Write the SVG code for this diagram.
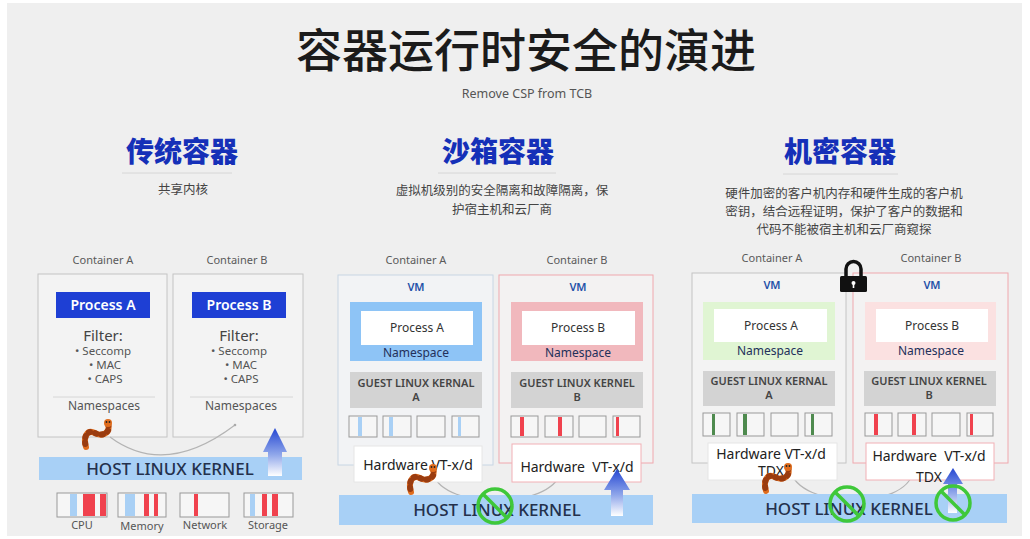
<svg xmlns="http://www.w3.org/2000/svg" width="1030" height="539" viewBox="0 0 1030 539">
  <style>
    .cjk { font-family: "Noto Sans CJK SC", "Noto Sans", sans-serif; }
    .lat { font-family: "Noto Sans", "Open Sans", "Liberation Sans", sans-serif; }
    .title { font-size: 46px; fill: #1b1b1b; font-weight: 500; }
    .sub { font-size: 12.5px; fill: #555; }
    .head { font-size: 28px; font-weight: 900; fill: #1530b8; }
    .desc { font-size: 12.5px; fill: #444; }
    .cname { font-size: 11px; fill: #5a5a5a; }
    .box { fill: #f3f3f3; stroke: #c4c4c4; stroke-width: 1; }
    .boxA { fill: #f2f3f5; stroke: #c8d6e4; stroke-width: 1; }
    .boxB { fill: #f3f2f2; stroke: #f0a8ae; stroke-width: 1; }
    .proc { fill: #1e3fd4; }
    .proct { font-size: 14px; fill: #fff; font-weight: 600; }
    .filt { font-size: 15px; fill: #444; }
    .bul { font-size: 11.5px; fill: #555; }
    .ns { font-size: 12px; fill: #555; }
    .vm { font-size: 11px; fill: #2450a8; font-weight: 600; }
    .white { fill: #ffffff; }
    .pt { font-size: 12px; fill: #333; }
    .nst { font-size: 12px; fill: #23305a; }
    .guest { fill: #d3d3d3; }
    .gt { font-size: 11px; fill: #444; font-weight: 600; }
    .slot { fill: #f6f6f6; stroke: #999; stroke-width: 1; }
    .hw { fill: #ffffff; stroke: #e6e6e6; stroke-width: 1; }
    .hwB { fill: #ffffff; stroke: #f2b0b5; stroke-width: 1; }
    .hwt { font-size: 14px; fill: #222; }
    .kern { fill: #a8d0f6; }
    .kt { font-size: 17px; fill: #24314c; font-weight: 500; }
    .res { font-size: 11px; fill: #555; }
    .path { fill: none; stroke: #b4b4b4; stroke-width: 1.2; }
    .no { fill: none; stroke: #3fc83a; stroke-width: 3.5; }
    .worm { fill: none; stroke: #e06c1c; stroke-width: 6; stroke-linecap: round; }
    .wormspot { fill: none; stroke: #9a3c10; stroke-width: 6; stroke-dasharray: 1.5 5; stroke-linecap: round; }
    .rb { fill: #a9d0f5; }
    .rr { fill: #f0424e; }
    .rg { fill: #4e8a4e; }
    .line { stroke: #d6d6d6; stroke-width: 1; }
  </style>
  <defs>
    <linearGradient id="upGrad" x1="0" y1="0" x2="0" y2="1">
      <stop offset="0" stop-color="#2446d2"/>
      <stop offset="0.55" stop-color="#8fa6ea"/>
      <stop offset="1" stop-color="#ffffff"/>
    </linearGradient>
    <g id="wormShape">
      <path class="worm" d="M0,0 C3,9 -6,13 -13,9 C-21,5 -25,13 -22,23"/>
      <path class="wormspot" d="M0,0 C3,9 -6,13 -13,9 C-21,5 -25,13 -22,23"/>
      <circle cx="0" cy="-1" r="4" fill="#e06c1c"/>
      <circle cx="-1.5" cy="-2" r="0.9" fill="#222"/>
      <circle cx="1.5" cy="-2" r="0.9" fill="#222"/>
    </g>
    <g id="noSign">
      <circle class="no" cx="0" cy="0" r="17"/>
      <line class="no" x1="-12" y1="-12" x2="12" y2="12"/>
    </g>
  </defs>

  <!-- page -->
  <rect x="0" y="0" width="1030" height="539" fill="#ffffff"/>
  <rect x="7" y="3" width="1015" height="533" fill="#efefef"/>

  <!-- title -->
  <g id="title">
    <text class="cjk title" x="526" y="67" text-anchor="middle">容器运行时安全的演进</text>
    <text class="lat sub" x="527" y="98" text-anchor="middle">Remove CSP from TCB</text>
  </g>

  <!-- section headings -->
  <g id="heading-traditional">
    <text class="cjk head" x="182" y="162" text-anchor="middle">传统容器</text>
    <line class="line" x1="122" y1="173" x2="232" y2="173"/>
    <text class="cjk desc" x="183" y="194" text-anchor="middle">共享内核</text>
  </g>
  <g id="heading-sandbox">
    <text class="cjk head" x="498" y="162" text-anchor="middle">沙箱容器</text>
    <line class="line" x1="438" y1="173" x2="556" y2="173"/>
    <text class="cjk desc" x="502" y="195" text-anchor="middle">虚拟机级别的安全隔离和故障隔离，保</text>
    <text class="cjk desc" x="502" y="214" text-anchor="middle">护宿主机和云厂商</text>
  </g>
  <g id="heading-confidential">
    <text class="cjk head" x="840" y="162" text-anchor="middle">机密容器</text>
    <line class="line" x1="783" y1="174" x2="898" y2="174"/>
    <text class="cjk desc" x="844" y="198" text-anchor="middle">硬件加密的客户机内存和硬件生成的客户机</text>
    <text class="cjk desc" x="844" y="216" text-anchor="middle">密钥，结合远程证明，保护了客户的数据和</text>
    <text class="cjk desc" x="844" y="234" text-anchor="middle">代码不能被宿主机和云厂商窥探</text>
  </g>

  <!-- ===== traditional containers ===== -->
  <g id="trad-container-a">
    <text class="lat cname" x="103" y="264" text-anchor="middle">Container A</text>
    <rect class="box" x="38" y="274" width="129" height="163"/>
    <rect class="proc" x="56" y="292" width="94" height="26"/>
    <text class="lat proct" x="103" y="310" text-anchor="middle">Process A</text>
    <text class="lat filt" x="103" y="341" text-anchor="middle">Filter:</text>
    <text class="lat bul" x="103" y="355" text-anchor="middle">• Seccomp</text>
    <text class="lat bul" x="105" y="369" text-anchor="middle">• MAC</text>
    <text class="lat bul" x="105" y="383" text-anchor="middle">• CAPS</text>
    <line class="line" x1="53" y1="397" x2="155" y2="397" stroke="#cfcfcf"/>
    <text class="lat ns" x="104" y="410" text-anchor="middle">Namespaces</text>
  </g>
  <g id="trad-container-b">
    <text class="lat cname" x="237" y="264" text-anchor="middle">Container B</text>
    <rect class="box" x="173" y="274" width="130" height="163"/>
    <rect class="proc" x="192" y="292" width="94" height="26"/>
    <text class="lat proct" x="239" y="310" text-anchor="middle">Process B</text>
    <text class="lat filt" x="239" y="341" text-anchor="middle">Filter:</text>
    <text class="lat bul" x="239" y="355" text-anchor="middle">• Seccomp</text>
    <text class="lat bul" x="241" y="369" text-anchor="middle">• MAC</text>
    <text class="lat bul" x="241" y="383" text-anchor="middle">• CAPS</text>
    <line class="line" x1="190" y1="397" x2="293" y2="397" stroke="#cfcfcf"/>
    <text class="lat ns" x="241" y="410" text-anchor="middle">Namespaces</text>
  </g>

  <!-- ===== sandboxed containers ===== -->
  <g id="sandbox-container-a">
    <text class="lat cname" x="416" y="264" text-anchor="middle">Container A</text>
    <rect class="boxA" x="338" y="275" width="155" height="190"/>
    <text class="lat vm" x="416" y="291" text-anchor="middle">VM</text>
    <rect x="350" y="302" width="132" height="59" fill="#8ec4f6"/>
    <rect class="white" x="361" y="311" width="112" height="34"/>
    <text class="lat pt" x="417" y="332" text-anchor="middle">Process A</text>
    <text class="lat nst" x="416" y="357" text-anchor="middle">Namespace</text>
    <rect class="guest" x="350" y="372" width="132" height="36"/>
    <text class="lat gt" x="416" y="387" text-anchor="middle">GUEST LINUX KERNAL</text>
    <text class="lat gt" x="416" y="401" text-anchor="middle">A</text>
    <rect class="slot" x="349" y="416" width="28" height="21"/>
    <rect class="slot" x="383" y="416" width="28" height="21"/>
    <rect class="slot" x="417" y="416" width="28" height="21"/>
    <rect class="slot" x="452" y="416" width="27" height="21"/>
    <rect class="rb" x="358" y="417" width="4" height="19"/>
    <rect class="rb" x="389" y="417" width="4" height="19"/>
    <rect class="rb" x="458" y="417" width="3" height="19"/>
  </g>
  <g id="sandbox-container-b">
    <text class="lat cname" x="577" y="264" text-anchor="middle">Container B</text>
    <rect class="boxB" x="499" y="275" width="154" height="188"/>
    <text class="lat vm" x="578" y="291" text-anchor="middle">VM</text>
    <rect x="511" y="302" width="132" height="59" fill="#f1b8bd"/>
    <rect class="white" x="522" y="311" width="113" height="34"/>
    <text class="lat pt" x="578" y="332" text-anchor="middle">Process B</text>
    <text class="lat nst" x="578" y="357" text-anchor="middle" fill="#3a2a30">Namespace</text>
    <rect class="guest" x="511" y="372" width="132" height="36"/>
    <text class="lat gt" x="577" y="387" text-anchor="middle">GUEST LINUX KERNEL</text>
    <text class="lat gt" x="577" y="401" text-anchor="middle">B</text>
    <rect class="slot" x="511" y="416" width="27" height="21"/>
    <rect class="slot" x="545" y="416" width="28" height="21"/>
    <rect class="slot" x="579" y="416" width="27" height="21"/>
    <rect class="slot" x="613" y="416" width="27" height="21"/>
    <rect class="rr" x="520" y="417" width="4" height="19"/>
    <rect class="rr" x="558" y="417" width="4" height="19"/>
    <rect class="rr" x="616" y="417" width="3" height="19"/>
  </g>

  <!-- ===== confidential containers ===== -->
  <g id="conf-container-a">
    <text class="lat cname" x="772" y="262" text-anchor="middle">Container A</text>
    <rect class="box" x="692" y="273" width="154" height="190"/>
    <text class="lat vm" x="772" y="289" text-anchor="middle">VM</text>
    <rect x="703" y="302" width="132" height="58" fill="#e0f5d3"/>
    <rect class="white" x="714" y="309" width="113" height="33"/>
    <text class="lat pt" x="771" y="330" text-anchor="middle">Process A</text>
    <text class="lat nst" x="770" y="355" text-anchor="middle" fill="#2e4a2e">Namespace</text>
    <rect class="guest" x="703" y="371" width="132" height="35"/>
    <text class="lat gt" x="769" y="385" text-anchor="middle">GUEST LINUX KERNAL</text>
    <text class="lat gt" x="769" y="399" text-anchor="middle">A</text>
    <rect class="slot" x="703" y="413" width="27" height="23"/>
    <rect class="slot" x="737" y="413" width="27" height="23"/>
    <rect class="slot" x="771" y="413" width="27" height="23"/>
    <rect class="slot" x="805" y="413" width="27" height="23"/>
    <rect class="rg" x="712" y="414" width="3" height="21"/>
    <rect class="rg" x="743" y="414" width="4" height="21"/>
    <rect class="rg" x="811" y="414" width="3" height="21"/>
  </g>
  <g id="conf-container-b">
    <text class="lat cname" x="931" y="262" text-anchor="middle">Container B</text>
    <rect class="boxB" x="853" y="273" width="155" height="190"/>
    <text class="lat vm" x="932" y="289" text-anchor="middle">VM</text>
    <rect x="865" y="302" width="131" height="58" fill="#fbe1e1"/>
    <rect class="white" x="876" y="309" width="112" height="33"/>
    <text class="lat pt" x="932" y="330" text-anchor="middle">Process B</text>
    <text class="lat nst" x="931" y="355" text-anchor="middle" fill="#3a2a30">Namespace</text>
    <rect class="guest" x="864" y="371" width="132" height="35"/>
    <text class="lat gt" x="929" y="385" text-anchor="middle">GUEST LINUX KERNEL</text>
    <text class="lat gt" x="929" y="399" text-anchor="middle">B</text>
    <rect class="slot" x="865" y="413" width="27" height="23"/>
    <rect class="slot" x="898" y="413" width="28" height="23"/>
    <rect class="slot" x="932" y="413" width="28" height="23"/>
    <rect class="slot" x="967" y="413" width="26" height="23"/>
    <rect class="rr" x="874" y="414" width="4" height="21"/>
    <rect class="rr" x="912" y="414" width="4" height="21"/>
    <rect class="rr" x="970" y="414" width="3" height="21"/>
  </g>
  <g id="lock">
    <path d="M846,277 V269 A7.5,7.5 0 0 1 861,269 V277" fill="none" stroke="#111" stroke-width="3.5"/>
    <rect x="840" y="276" width="27" height="16" rx="1.5" fill="#111"/>
    <circle cx="853.5" cy="283" r="2" fill="#fff"/>
    <rect x="852.7" y="283" width="1.6" height="5" fill="#fff"/>
  </g>

  <!-- attack / escape paths between containers -->
  <g id="connectors">
    <path class="path" d="M110,437 Q165,478 235,425"/>
    <circle cx="235" cy="425" r="1.3" fill="#aaa"/>
    <path class="path" d="M433,474 C445,510 550,510 561,472"/>
    <circle cx="561" cy="472" r="1.3" fill="#aaa"/>
    <path class="path" d="M790,470 C800,510 905,510 913,472"/>
    <circle cx="913" cy="472" r="1.3" fill="#aaa"/>
  </g>

  <!-- hardware layers -->
  <g id="sandbox-hw-a">
    <rect class="hw" x="354" y="446" width="128" height="36"/>
    <text class="lat hwt" x="418" y="470" text-anchor="middle">Hardware VT-x/d</text>
  </g>
  <g id="sandbox-hw-b">
    <rect class="hwB" x="512" y="444" width="129" height="38"/>
    <text class="lat hwt" x="577" y="472" text-anchor="middle" xml:space="preserve">Hardware  VT-x/d</text>
  </g>
  <g id="conf-hw-a">
    <rect class="hw" x="708" y="443" width="129" height="37"/>
    <text class="lat hwt" x="771" y="459" text-anchor="middle">Hardware VT-x/d</text>
    <text class="lat hwt" x="771" y="476" text-anchor="middle">TDX</text>
  </g>
  <g id="conf-hw-b">
    <rect class="hwB" x="866" y="443" width="128" height="37"/>
    <text class="lat hwt" x="929" y="461" text-anchor="middle" xml:space="preserve">Hardware  VT-x/d</text>
    <text class="lat hwt" x="929" y="482" text-anchor="middle">TDX</text>
  </g>

  <!-- host kernels -->
  <g id="trad-host-kernel">
    <rect class="kern" x="39" y="457" width="263" height="23"/>
    <text class="lat kt" x="170" y="475" text-anchor="middle">HOST LINUX KERNEL</text>
  </g>
  <g id="sandbox-host-kernel">
    <rect class="kern" x="339" y="495" width="314" height="30"/>
    <text class="lat kt" x="497" y="516" text-anchor="middle">HOST LINUX KERNEL</text>
  </g>
  <g id="conf-host-kernel">
    <rect class="kern" x="692" y="494" width="315" height="29"/>
    <text class="lat kt" x="849" y="515" text-anchor="middle">HOST LINUX KERNEL</text>
  </g>

  <!-- physical resources -->
  <g id="res-cpu">
    <rect class="slot" x="57" y="493" width="50" height="24"/>
    <rect class="rb" x="70" y="494" width="7" height="22"/>
    <rect class="rr" x="83" y="494" width="12" height="22"/>
    <rect class="rr" x="100" y="494" width="6" height="22"/>
    <text class="lat res" x="82" y="529" text-anchor="middle">CPU</text>
  </g>
  <g id="res-memory">
    <rect class="slot" x="118" y="493" width="48" height="24"/>
    <rect class="rb" x="125" y="494" width="10" height="22"/>
    <rect class="rr" x="144" y="494" width="5" height="22"/>
    <rect class="rr" x="154" y="494" width="4" height="22"/>
    <text class="lat res" x="142" y="530" text-anchor="middle">Memory</text>
  </g>
  <g id="res-network">
    <rect class="slot" x="180" y="493" width="49" height="24"/>
    <rect class="rr" x="194" y="494" width="4" height="22"/>
    <text class="lat res" x="205" y="529" text-anchor="middle">Network</text>
  </g>
  <g id="res-storage">
    <rect class="slot" x="244" y="493" width="49" height="24"/>
    <rect class="rb" x="250" y="494" width="5" height="22"/>
    <rect class="rr" x="262" y="494" width="5" height="22"/>
    <rect class="rr" x="272" y="494" width="6" height="22"/>
    <text class="lat res" x="268" y="529" text-anchor="middle">Storage</text>
  </g>

  <!-- malicious workloads -->
  <g id="worm-trad"><use href="#wormShape" x="108" y="424"/></g>
  <g id="worm-sandbox"><use href="#wormShape" x="433" y="469"/></g>
  <g id="worm-conf"><use href="#wormShape" x="788" y="468"/></g>

  <!-- privilege escalation arrows -->
  <g id="escalate-trad">
    <path d="M275,428 L287,452 L282,452 L282,476 L268,476 L268,452 L263,452 Z" fill="url(#upGrad)"/>
  </g>
  <g id="escalate-sandbox">
    <path d="M617,469 L630,490 L623,490 L623,516 L611,516 L611,490 L604,490 Z" fill="url(#upGrad)"/>
  </g>
  <g id="escalate-conf">
    <path d="M953,468 L963,484 L957,484 L957,513 L948,513 L948,484 L943,484 Z" fill="url(#upGrad)"/>
  </g>

  <!-- blocked markers -->
  <g id="block-sandbox"><use href="#noSign" x="495" y="506"/></g>
  <g id="block-conf-1"><use href="#noSign" x="847" y="504"/></g>
  <g id="block-conf-2"><use href="#noSign" x="953" y="503"/></g>
</svg>
